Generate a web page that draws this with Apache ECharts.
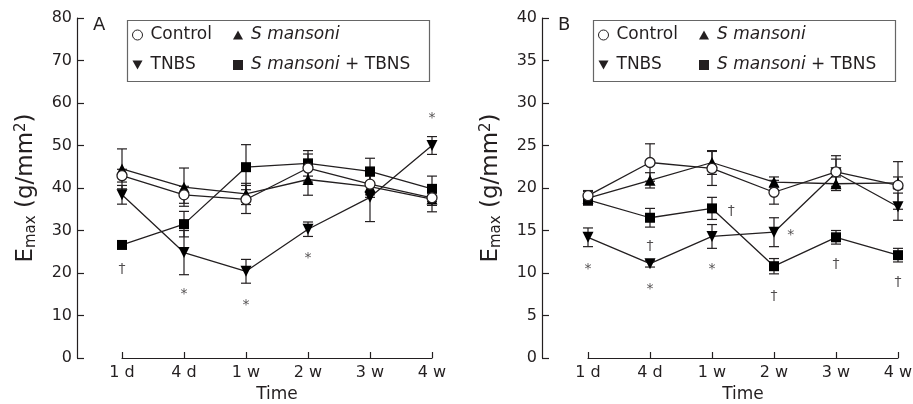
<!DOCTYPE html>
<html><head><meta charset="utf-8">
<script src="https://cdn.jsdelivr.net/npm/echarts@6/dist/echarts.min.js"></script>
<style>html,body{margin:0;padding:0;background:#fff}#c{width:913px;height:404px}</style>
</head><body><div id="c"></div>
<script>
// ---- data ----
const categories = ['1 d', '4 d', '1 w', '2 w', '3 w', '4 w'];
const yTicksA = [0, 10, 20, 30, 40, 50, 60, 70, 80];
const yTicksB = [0, 5, 10, 15, 20, 25, 30, 35, 40];

// Panel A means and SE
const controlA = [42.9, 38.4, 37.3, 44.7, 40.9, 37.7];
const controlA_se = [1.5, 2.0, 3.3, 3.3, 2.5, 1.8];
const smansoniA = [44.5, 40.2, 38.6, 42.0, 40.3, 37.4];
const smansoniA_se = [4.7, 4.5, 2.5, 3.7, 2.5, 3.0];
const tnbsA = [38.4, 24.8, 20.4, 30.3, 37.8, 50.0];
const tnbsA_se = [2.2, 5.2, 2.8, 1.7, 5.7, 2.1];
const smTnbsA = [26.6, 31.5, 44.9, 45.8, 43.9, 39.8];
const smTnbsA_se = [0.8, 3.0, 5.3, 3.0, 3.1, 3.0];
// annotations A: [x index, y value, symbol]
const notesA = [[0, 20.8, '†'], [1, 14.9, '*'], [2, 12.5, '*'], [3, 23.5, '*'], [5, 56.3, '*']];

// Panel B means and SE
const controlB = [19.1, 23.0, 22.3, 19.5, 21.9, 20.3];
const controlB_se = [0.6, 2.2, 2.0, 1.4, 1.9, 2.8];
const smansoniB = [18.8, 20.9, 23.0, 20.7, 20.5, 20.6];
const smansoniB_se = [0.8, 0.9, 1.4, 0.6, 0.8, 0.7];
const tnbsB = [14.2, 11.1, 14.3, 14.8, 21.8, 17.8];
const tnbsB_se = [1.1, 0.4, 1.4, 1.7, 1.6, 1.6];
const smTnbsB = [18.6, 16.5, 17.6, 10.8, 14.2, 12.1];
const smTnbsB_se = [0.6, 1.1, 1.3, 0.9, 0.8, 0.8];
const notesB = [[0, 10.4, '*'], [1, 13.1, '†'], [1, 8.1, '*'], [2, 10.4, '*'], [2.31, 17.2, '†'],
                [3.27, 14.4, '*'], [3, 7.2, '†'], [4, 11.0, '†'], [5, 8.9, '†']];

// ---- chart ----
const FONT = 'DejaVu Sans';
const TXT = '#231f20';
const DOWN = 'path://M0,0 L10,0 L5,9 Z';
const UP = 'path://M5,0 L10,9 L0,9 Z';

const chart = echarts.init(document.getElementById('c'), null, {renderer: 'canvas'});

const panels = [
  {yAxisLeft: 77, dataLeft: 122, dataWidth: 310, max: 80, interval: 10, ticks: yTicksA,
   series: [[smTnbsA, smTnbsA_se], [tnbsA, tnbsA_se], [smansoniA, smansoniA_se], [controlA, controlA_se]],
   notes: notesA, label: 'A'},
  {yAxisLeft: 542, dataLeft: 588, dataWidth: 310, max: 40, interval: 5, ticks: yTicksB,
   series: [[smTnbsB, smTnbsB_se], [tnbsB, tnbsB_se], [smansoniB, smansoniB_se], [controlB, controlB_se]],
   notes: notesB, label: 'B'}
];
const names = ['S mansoni + TBNS', 'TNBS', 'S mansoni', 'Control'];
const symbols = ['rect', DOWN, UP, 'circle'];
const sizes = [10, 11, 11, 10];
const fills = ['#000', '#000', '#000', '#fff'];

const TOP = 18, BOTTOM = 46;
const grid = [], xAxis = [], yAxis = [], series = [], title = [], legend = [], graphic = [];

panels.forEach((p, pi) => {
  const gAxis = grid.length;
  grid.push({left: p.yAxisLeft, top: TOP, bottom: BOTTOM, width: p.dataLeft + p.dataWidth - p.yAxisLeft,
             containLabel: false, outerBoundsMode: 'none'});
  xAxis.push({gridIndex: gAxis, type: 'value', show: false, min: 0, max: 1});
  yAxis.push({
    gridIndex: gAxis, type: 'value', min: 0, max: p.max, interval: p.interval,
    axisLine: {show: true, lineStyle: {color: '#231f20', width: 1.2}},
    axisTick: {show: true, inside: true, length: 7, lineStyle: {color: '#231f20', width: 1.2}},
    axisLabel: {color: TXT, fontFamily: FONT, fontSize: 16, margin: 5},
    splitLine: {show: false},
    name: '{n|E}{s|max}{n| (g/mm}{p|2}{n|)}',
    nameLocation: 'middle', nameRotate: 90, nameGap: 38,
    nameTextStyle: {color: TXT, fontFamily: FONT, fontSize: 23,
      rich: {n: {fontSize: 23, fontFamily: FONT, color: TXT},
             s: {fontSize: 15, fontFamily: FONT, color: TXT, verticalAlign: 'bottom', padding: [10, 0, 0, 0]},
             p: {fontSize: 15, fontFamily: FONT, color: TXT, verticalAlign: 'top', padding: [0, 0, 10, 0]}}}
  });
  const gData = grid.length;
  grid.push({left: p.dataLeft, top: TOP, bottom: BOTTOM, width: p.dataWidth,
             containLabel: false, outerBoundsMode: 'none'});
  xAxis.push({
    gridIndex: gData, type: 'value', min: 0, max: categories.length - 1, interval: 1, offset: 3,
    axisLine: {show: true, lineStyle: {color: '#231f20', width: 1.2}},
    axisTick: {show: true, inside: true, length: 6, lineStyle: {color: '#231f20', width: 1.2}},
    axisLabel: {color: TXT, fontFamily: FONT, fontSize: 16, margin: 4, formatter: v => categories[v]},
    splitLine: {show: false},
    name: 'Time', nameLocation: 'middle', nameGap: 23,
    nameTextStyle: {color: TXT, fontFamily: FONT, fontSize: 17}
  });
  yAxis.push({gridIndex: gData, type: 'value', min: 0, max: p.max, show: false, splitLine: {show: false}});

  p.series.forEach((s, si) => {
    const [means, se] = s;
    series.push({
      type: 'custom', name: names[si], xAxisIndex: gData, yAxisIndex: gData, z: 2,
      data: means.map((m, i) => [i, m, se[i]]),
      renderItem: (params, api) => {
        const x = api.value(0), m = api.value(1), e = api.value(2);
        const t = api.coord([x, m + e]), b = api.coord([x, m - e]);
        const w = 5, st = {stroke: '#231f20', lineWidth: 1.2};
        return {type: 'group', children: [
          {type: 'line', shape: {x1: t[0], y1: t[1], x2: b[0], y2: b[1]}, style: st},
          {type: 'line', shape: {x1: t[0] - w, y1: t[1], x2: t[0] + w, y2: t[1]}, style: st},
          {type: 'line', shape: {x1: b[0] - w, y1: b[1], x2: b[0] + w, y2: b[1]}, style: st}
        ]};
      }
    });
  });
  p.series.forEach((s, si) => {
    series.push({
      type: 'line', name: names[si], xAxisIndex: gData, yAxisIndex: gData, z: 3 + si,
      data: s[0].map((m, i) => [i, m]),
      symbol: symbols[si], symbolSize: sizes[si], showAllSymbol: true,
      lineStyle: {color: '#231f20', width: 1.3},
      itemStyle: {color: fills[si], borderColor: '#231f20', borderWidth: si === 3 ? 1.3 : 0},
      emphasis: {disabled: true}, animation: false
    });
  });
  series.push({
    type: 'scatter', xAxisIndex: gData, yAxisIndex: gData, symbolSize: 1, z: 8,
    itemStyle: {color: 'rgba(0,0,0,0)'}, silent: true,
    data: p.notes.map(n => ({value: [n[0], n[1]], label: {formatter: n[2]}})),
    label: {show: true, position: 'inside', color: TXT, fontFamily: 'DejaVu Sans', fontSize: 14}
  });

  title.push({text: p.label, left: p.yAxisLeft + 11, top: 11,
    textStyle: {color: TXT, fontFamily: FONT, fontSize: 18, fontWeight: 'normal'}});

  const bx = p.dataLeft + 3, bw = p.dataWidth - 8;
  graphic.push({type: 'rect', left: bx, top: 18, shape: {width: bw, height: 61},
    style: {fill: 'none', stroke: '#666', lineWidth: 1.2}, z: 10});
  const legendCommon = {orient: 'vertical', top: 25, itemGap: 10, itemWidth: 10, itemHeight: 10, padding: 0,
    selectedMode: false,
    textStyle: {color: TXT, fontFamily: FONT, fontSize: 17, lineHeight: 20, padding: [0, 0, 0, 3],
      rich: {i: {fontStyle: 'italic', fontFamily: FONT, fontSize: 17, color: TXT}}},
    formatter: name => name.replace('S mansoni', '{i|S mansoni}')};
  legend.push(Object.assign({}, legendCommon, {left: bx + 7, data: [
    {name: 'Control', icon: 'circle', itemStyle: {color: '#fff', borderColor: '#231f20', borderWidth: 1}},
    {name: 'TNBS', icon: DOWN, itemStyle: {color: '#231f20', borderWidth: 0}}]}));
  legend.push(Object.assign({}, legendCommon, {left: bx + 108, data: [
    {name: 'S mansoni', icon: UP, itemStyle: {color: '#231f20', borderWidth: 0}},
    {name: 'S mansoni + TBNS', icon: 'rect', itemStyle: {color: '#231f20', borderWidth: 0}}]}));
});

chart.setOption({animation: false, title, grid, xAxis, yAxis, series, legend, graphic});
</script>
</body></html>
